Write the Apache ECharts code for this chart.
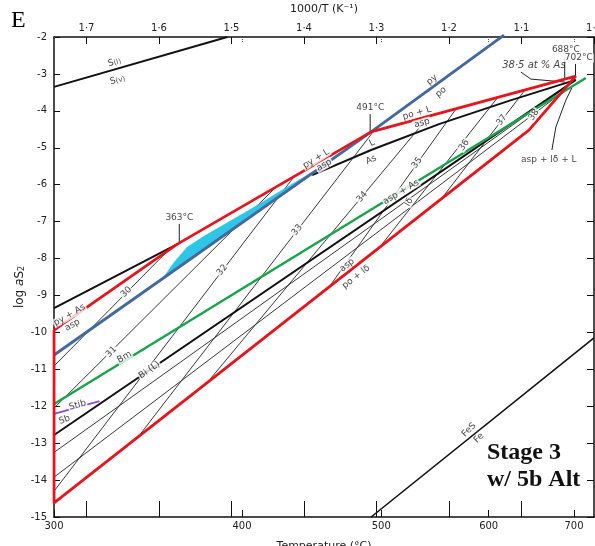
<!DOCTYPE html>
<html>
<head>
<meta charset="utf-8">
<script src="https://cdn.jsdelivr.net/npm/echarts@6/dist/echarts.min.js"></script>
<style>
  html, body { margin: 0; padding: 0; background: #fff; }
  #chart { width: 595px; height: 546px; }
</style>
</head>
<body>
<div id="chart"></div>
<script>
// all points are [1000/T (K^-1), log aS2]
const invTTicks = [1.1, 1.2, 1.3, 1.4, 1.5, 1.6, 1.7];
const tempLabels = [300, 400, 500, 600, 700];

const redField = [[1.7447, -14.62], [1.7447, -9.94], [1.5747, -7.61], [1.3074, -4.57],
                  [1.0251, -3.06], [1.0898, -4.52], [1.7447, -14.62]];
const pyAsLine = [[1.7447, -9.34], [1.5747, -7.61]];
const pyPoLine = [[1.7447, -10.61], [1.3074, -4.57], [1.1242, -1.95]];
const cyanArea = [[1.5953, -8.555], [1.5788, -8.094], [1.5609, -7.688], [1.5375, -7.39],
                  [1.4755, -6.686], [1.3887, -5.657], [1.4755, -6.90], [1.5444, -7.82]];
const liqAsLine = [[1.3887, -5.74], [1.3074, -5.06], [1.2138, -4.36], [1.1174, -3.73], [1.0251, -3.16]];
const biLine = [[1.7447, -12.78], [1.0251, -3.16]];
const greenLine = [[1.7447, -11.94], [1.0113, -3.11]];
const sbLine = [[1.7447, -12.21], [1.6821, -11.86]];
const sulfurLine = [[1.7447, -3.35], [1.5058, -2.0]];
const feLine = [[1.3074, -15.0], [1.0, -10.15]];

// thin isopleths (at % As) and other buffers
const isopleths = [
  [[1.7447, -10.91], [1.5884, -7.80]],
  [[1.7447, -12.05], [1.4379, -6.05]],
  [[1.7447, -14.30], [1.4136, -5.78]],
  [[1.6256, -12.75], [1.3047, -4.57]],
  [[1.5292, -11.26], [1.2275, -4.14]],
  [[1.3653, -8.77], [1.1904, -3.95]],
  [[1.2923, -7.61], [1.1325, -3.63]],
  [[1.2096, -6.36], [1.0953, -3.44]],
  [[1.0898, -4.52], [1.0388, -3.33]],
  [[1.7447, -13.25], [1.0485, -3.49]],
  [[1.7447, -13.92], [1.0485, -3.57]]
];

// leader lines of the annotations
const leaders = [
  [[1.572, -7.06], [1.572, -7.61]],
  [[1.3087, -4.09], [1.3087, -4.57]],
  [[1.0404, -2.57], [1.0404, -3.16]],
  [[1.0255, -2.73], [1.0255, -3.06]],
  [[1.1008, -2.95], [1.0871, -3.14], [1.0404, -3.22]],
  [[1.0581, -5.06], [1.0526, -4.44], [1.0388, -3.71], [1.0306, -3.38]]
];

// [1000/T, log aS2, text, rotation]
const labels = [
  [1.6614, -2.68, 'S{s|(l)}', 16], [1.6573, -3.16, 'S{s|(v)}', 16],
  [1.2234, -3.16, 'py', 40], [1.2110, -3.49, 'po', 40],
  [1.3087, -3.92, '491°C', 0], [1.5719, -6.88, '363°C', 0],
  [1.0388, -2.35, '688°C', 0], [1.0209, -2.57, '702°C', 0],
  [1.2441, -4.06, 'po + L', 16], [1.2372, -4.33, 'asp', 16],
  [1.3061, -4.87, 'L', 25], [1.3074, -5.33, 'As', 25],
  [1.3832, -5.30, 'py + L', 32], [1.3722, -5.47, 'asp', 30],
  [1.0623, -5.33, 'asp + lδ + L', 0],
  [1.2661, -6.20, 'asp + As', 31], [1.2551, -6.47, 'lδ', 60],
  [1.3405, -8.18, 'asp', 38], [1.3281, -8.50, 'po + lδ', 38],
  [1.6477, -10.67, 'Bm', 30], [1.6132, -11.02, 'Bi (L)', 35],
  [1.7124, -11.97, 'Stib', 15], [1.7303, -12.37, 'Sb', 20],
  [1.7234, -9.53, 'py + As', 30], [1.7193, -9.80, 'asp', 30],
  [1.1725, -12.64, 'FeS', 45], [1.1587, -12.86, 'Fe', 45],
  [1.6449, -8.91, '30', 45], [1.6656, -10.53, '31', 45],
  [1.5127, -8.31, '32', 52], [1.4094, -7.23, '33', 52],
  [1.3198, -6.33, '34', 50], [1.2441, -5.41, '35', 54],
  [1.1793, -4.93, '36', 55], [1.1270, -4.25, '37', 55],
  [1.0829, -4.11, '38', 55]
];
const italicLabel = [1.0829, -2.76, '38·5 at % As'];

const toT = v => Math.round(1000 / v - 273.15);
const toInv = t => 1000 / (t + 273.15);
const xMin = 1.0;
const xMax = 1.7448;

const chart = echarts.init(document.getElementById('chart'));

function lineSeries(data, color, width, z, clip) {
  return {
    type: 'line', data: data, showSymbol: false, symbol: 'none', silent: true,
    lineStyle: { color: color, width: width }, z: z, clip: clip !== false,
    animation: false
  };
}

const series = [];
isopleths.forEach(d => series.push(lineSeries(d, '#222', 0.9, 2)));
leaders.forEach(d => series.push(lineSeries(d, '#222', 1, 2, false)));
series.push({
  type: 'custom', data: [0], z: 3, animation: false, silent: true,
  renderItem: (params, api) => ({
    type: 'polygon',
    shape: { points: cyanArea.map(p => api.coord(p)) },
    style: { fill: '#2dc6e6', stroke: '#2dc6e6', lineWidth: 0.5 }
  })
});
series.push(lineSeries(sulfurLine, '#111', 2, 3));
series.push(lineSeries(feLine, '#111', 1.6, 3));
series.push(lineSeries(biLine, '#111', 2, 3));
series.push(lineSeries(liqAsLine, '#111', 2, 3));
series.push(lineSeries(pyAsLine, '#111', 2, 3));
series.push(lineSeries(greenLine, '#19a34a', 2.4, 4));
series.push(lineSeries(sbLine, '#8a4fc8', 1.8, 4));
series.push(lineSeries(pyPoLine, '#44699e', 3, 4, false));
series.push(lineSeries(redField, '#e8141b', 2.8, 5));

series.push({
  type: 'scatter', symbolSize: 0, z: 6, animation: false, silent: true,
  data: labels.map(l => ({
    value: [l[0], l[1]],
    label: { rotate: l[3], formatter: l[2] }
  })),
  label: {
    show: true, position: 'inside', color: '#111', fontSize: 9,
    fontFamily: 'DejaVu Sans', backgroundColor: '#fff', padding: [0, 1],
    rich: { s: { fontSize: 7, color: '#111', backgroundColor: '#fff', verticalAlign: 'bottom' } }
  }
});
series.push({
  type: 'scatter', symbolSize: 0, z: 6, animation: false, silent: true,
  data: [{ value: [italicLabel[0], italicLabel[1]] }],
  label: {
    show: true, position: 'inside', formatter: italicLabel[2], color: '#111',
    fontSize: 10, fontStyle: 'italic', fontFamily: 'DejaVu Sans'
  }
});

const axisText = { color: '#222', fontSize: 10, fontFamily: 'DejaVu Sans' };

chart.setOption({
  backgroundColor: '#fff',
  animation: false,
  title: [
    { text: 'E', left: 6, top: 4, textStyle: { fontFamily: 'Liberation Serif', fontSize: 24, fontWeight: 'normal', color: '#000' } },
    { text: 'Stage 3\nw/ 5b Alt', left: 482, top: 434,
      textStyle: { fontFamily: 'Liberation Serif', fontSize: 24, fontWeight: 'bold', color: '#111', lineHeight: 27 } }
  ],
  grid: { left: 54, top: 37, width: 540, height: 480, containLabel: false, outerBoundsMode: 'none' },
  xAxis: [
    {
      type: 'value', position: 'top', min: xMin, max: xMax, interval: 0.1, inverse: true,
      name: '1000/T (K⁻¹)', nameLocation: 'middle', nameGap: 22,
      nameTextStyle: { color: '#222', fontSize: 11, fontFamily: 'DejaVu Sans' },
      axisLine: { lineStyle: { color: '#111', width: 1.5 } },
      axisTick: { inside: true, length: 7, lineStyle: { color: '#111' } },
      axisLabel: Object.assign({ margin: 4, showMaxLabel: false,
        formatter: v => v.toFixed(1).replace('.', '·') }, axisText),
      splitLine: { show: false }
    },
    {
      type: 'value', position: 'bottom', min: xMin, max: xMax, inverse: true,
      name: 'Temperature (°C)', nameLocation: 'middle', nameGap: 24,
      nameTextStyle: { color: '#222', fontSize: 11, fontFamily: 'DejaVu Sans' },
      axisLine: { lineStyle: { color: '#111', width: 1.5 } },
      axisTick: { inside: true, length: 16, customValues: invTTicks, lineStyle: { color: '#111' } },
      axisLabel: Object.assign({ margin: 4, customValues: tempLabels.map(toInv),
        formatter: v => String(toT(v)) }, axisText),
      splitLine: { show: false }
    },
    {
      type: 'value', position: 'bottom', min: xMin, max: xMax, inverse: true,
      axisLine: { show: false },
      axisTick: { inside: true, length: 7, customValues: tempLabels.map(toInv), lineStyle: { color: '#111' } },
      axisLabel: { show: false }, splitLine: { show: false }
    },
    {
      type: 'value', position: 'top', min: xMin, max: xMax, inverse: true,
      axisLine: { show: false },
      axisTick: { inside: true, length: 5, customValues: tempLabels.map(toInv),
        lineStyle: { color: '#555', type: 'dotted' } },
      axisLabel: { show: false }, splitLine: { show: false }
    }
  ],
  yAxis: [
    {
      type: 'value', position: 'left', min: -15, max: -2, interval: 1,
      name: 'log {i|a}S{s|2}', nameLocation: 'middle', nameGap: 28, nameRotate: 90,
      nameMoveOverlap: false,
      nameTextStyle: { color: '#222', fontSize: 12, fontFamily: 'DejaVu Sans', padding: [0, 20, 0, 0],
        rich: { i: { fontStyle: 'italic', fontSize: 12, color: '#222' }, s: { fontSize: 8, color: '#222', verticalAlign: 'bottom' } } },
      axisLine: { show: true, lineStyle: { color: '#111', width: 1.5 } },
      axisTick: { show: true, inside: true, length: 6, lineStyle: { color: '#111' } },
      axisLabel: Object.assign({ margin: 7, formatter: v => String(v) }, axisText),
      splitLine: { show: false }
    },
    {
      type: 'value', position: 'right', min: -15, max: -2, interval: 1,
      axisLine: { show: true, lineStyle: { color: '#111', width: 1.5 } },
      axisTick: { show: true, inside: true, length: 7, lineStyle: { color: '#111' } },
      axisLabel: { show: false }, splitLine: { show: false }
    }
  ],
  series: series
});
</script>
</body>
</html>
